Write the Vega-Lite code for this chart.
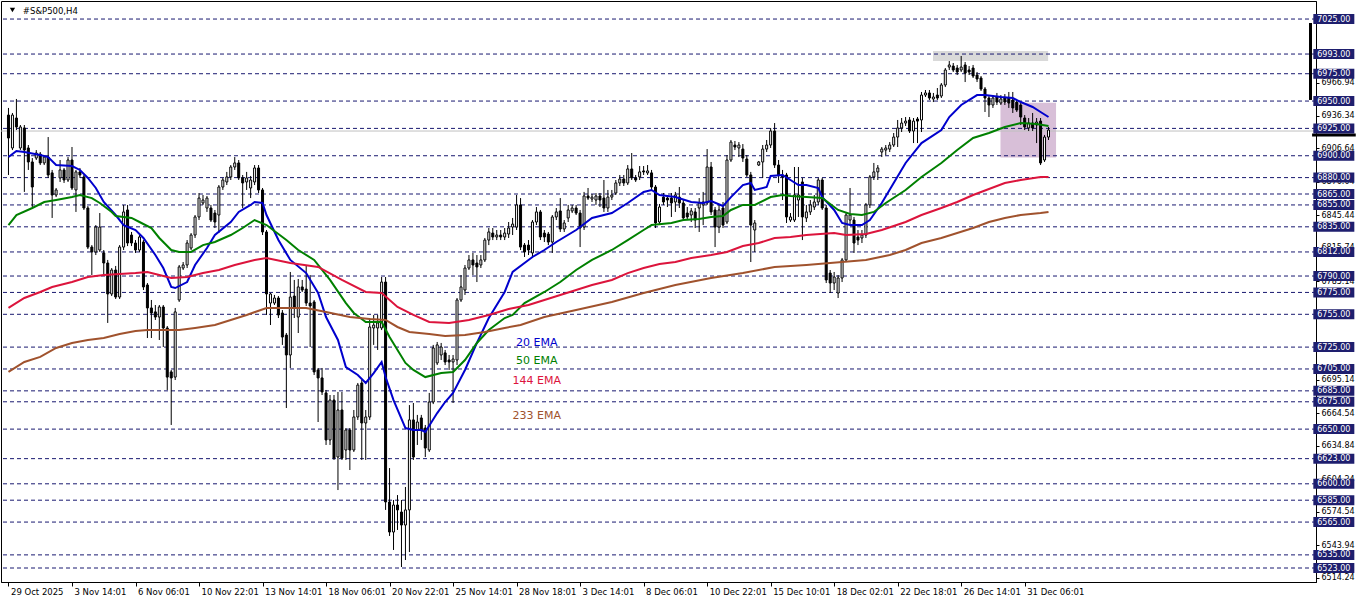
{
"$schema":"https://vega.github.io/schema/vega-lite/v6.json",
"width":1315,"height":581,"autosize":"none",
"padding":{"left":1,"top":1,"right":46,"bottom":21},
"background":"#ffffff",
"config":{"view":{"stroke":"#000000","strokeWidth":1},"font":"DejaVu Sans","axis":{"grid":false,"title":null}},
"datasets":{
"candles":[
{"i":0,"o":6937.2,"h":6943.7,"l":6882.4,"c":6916.2},
{"i":1,"o":6907.1,"h":6939.1,"l":6905.2,"c":6937.2},
{"i":2,"o":6934.5,"h":6951.9,"l":6923.5,"c":6926.3},
{"i":3,"o":6907.1,"h":6928.1,"l":6905.2,"c":6926.3},
{"i":4,"o":6925.4,"h":6928.1,"l":6866.9,"c":6905.2},
{"i":5,"o":6907.1,"h":6909.8,"l":6887.0,"c":6894.3},
{"i":6,"o":6894.3,"h":6897.9,"l":6853.1,"c":6871.4},
{"i":7,"o":6897.9,"h":6905.2,"l":6896.1,"c":6902.5},
{"i":8,"o":6901.5,"h":6903.4,"l":6891.5,"c":6893.4},
{"i":9,"o":6893.4,"h":6900.6,"l":6891.5,"c":6898.8},
{"i":10,"o":6898.8,"h":6917.1,"l":6879.7,"c":6882.4},
{"i":11,"o":6884.3,"h":6887.0,"l":6843.1,"c":6864.1},
{"i":12,"o":6864.1,"h":6870.5,"l":6862.2,"c":6868.7},
{"i":13,"o":6879.7,"h":6896.1,"l":6876.0,"c":6887.0},
{"i":14,"o":6887.0,"h":6888.8,"l":6875.1,"c":6877.8},
{"i":15,"o":6877.8,"h":6898.8,"l":6876.0,"c":6896.1},
{"i":16,"o":6896.1,"h":6908.0,"l":6868.7,"c":6870.5},
{"i":17,"o":6868.7,"h":6887.0,"l":6848.6,"c":6885.2},
{"i":18,"o":6885.2,"h":6888.8,"l":6879.7,"c":6882.4},
{"i":19,"o":6880.6,"h":6882.4,"l":6850.4,"c":6852.2},
{"i":20,"o":6852.2,"h":6854.0,"l":6814.7,"c":6816.5},
{"i":21,"o":6816.5,"h":6818.3,"l":6790.9,"c":6812.0},
{"i":22,"o":6812.0,"h":6836.6,"l":6809.2,"c":6834.8},
{"i":23,"o":6813.8,"h":6847.6,"l":6812.0,"c":6834.8},
{"i":24,"o":6811.1,"h":6813.8,"l":6790.9,"c":6801.9},
{"i":25,"o":6801.9,"h":6804.7,"l":6747.1,"c":6773.6},
{"i":26,"o":6773.6,"h":6797.3,"l":6771.7,"c":6795.5},
{"i":27,"o":6795.5,"h":6799.2,"l":6769.0,"c":6770.8},
{"i":28,"o":6770.8,"h":6818.3,"l":6769.0,"c":6816.5},
{"i":29,"o":6816.5,"h":6855.0,"l":6813.8,"c":6848.6},
{"i":30,"o":6850.4,"h":6855.0,"l":6817.4,"c":6820.2},
{"i":31,"o":6827.5,"h":6830.3,"l":6817.4,"c":6820.2},
{"i":32,"o":6820.2,"h":6822.9,"l":6811.1,"c":6813.8},
{"i":33,"o":6813.8,"h":6827.5,"l":6812.0,"c":6825.7},
{"i":34,"o":6821.1,"h":6822.9,"l":6777.2,"c":6780.0},
{"i":35,"o":6781.8,"h":6783.6,"l":6733.3,"c":6760.8},
{"i":36,"o":6760.8,"h":6768.1,"l":6733.3,"c":6756.2},
{"i":37,"o":6757.2,"h":6763.5,"l":6749.8,"c":6752.5},
{"i":38,"o":6752.5,"h":6763.5,"l":6731.5,"c":6761.7},
{"i":39,"o":6761.7,"h":6763.5,"l":6725.1,"c":6742.5},
{"i":40,"o":6742.5,"h":6744.3,"l":6685.8,"c":6697.6},
{"i":41,"o":6702.3,"h":6704.1,"l":6653.8,"c":6696.8},
{"i":42,"o":6697.6,"h":6760.8,"l":6694.9,"c":6757.2},
{"i":43,"o":6768.1,"h":6800.1,"l":6766.3,"c":6798.3},
{"i":44,"o":6797.3,"h":6802.8,"l":6795.5,"c":6800.1},
{"i":45,"o":6800.1,"h":6822.9,"l":6797.3,"c":6820.2},
{"i":46,"o":6815.6,"h":6829.3,"l":6813.8,"c":6827.5},
{"i":47,"o":6827.5,"h":6845.8,"l":6824.8,"c":6844.0},
{"i":48,"o":6844.0,"h":6865.9,"l":6841.2,"c":6861.3},
{"i":49,"o":6856.8,"h":6864.1,"l":6855.0,"c":6859.5},
{"i":50,"o":6852.2,"h":6863.2,"l":6848.6,"c":6861.3},
{"i":51,"o":6852.2,"h":6855.0,"l":6839.4,"c":6841.2},
{"i":52,"o":6847.6,"h":6850.4,"l":6833.9,"c":6839.4},
{"i":53,"o":6845.8,"h":6873.2,"l":6829.3,"c":6871.4},
{"i":54,"o":6871.4,"h":6879.7,"l":6868.7,"c":6877.8},
{"i":55,"o":6876.0,"h":6885.2,"l":6873.2,"c":6880.6},
{"i":56,"o":6880.6,"h":6891.5,"l":6877.8,"c":6889.7},
{"i":57,"o":6889.7,"h":6898.8,"l":6887.0,"c":6893.4},
{"i":58,"o":6893.4,"h":6896.1,"l":6877.8,"c":6879.7},
{"i":59,"o":6879.7,"h":6882.4,"l":6852.2,"c":6875.1},
{"i":60,"o":6876.0,"h":6885.2,"l":6868.7,"c":6879.7},
{"i":61,"o":6870.5,"h":6881.5,"l":6861.3,"c":6877.8},
{"i":62,"o":6876.0,"h":6891.5,"l":6873.2,"c":6888.8},
{"i":63,"o":6888.8,"h":6891.5,"l":6865.9,"c":6868.7},
{"i":64,"o":6868.7,"h":6870.5,"l":6827.5,"c":6830.3},
{"i":65,"o":6830.3,"h":6832.1,"l":6754.4,"c":6773.6},
{"i":66,"o":6765.3,"h":6774.5,"l":6745.2,"c":6773.6},
{"i":67,"o":6765.3,"h":6772.7,"l":6763.5,"c":6769.9},
{"i":68,"o":6769.9,"h":6771.7,"l":6751.6,"c":6754.4},
{"i":69,"o":6756.2,"h":6758.9,"l":6727.0,"c":6734.2},
{"i":70,"o":6736.0,"h":6737.9,"l":6669.3,"c":6717.8},
{"i":71,"o":6717.8,"h":6793.7,"l":6705.9,"c":6770.8},
{"i":72,"o":6771.7,"h":6786.4,"l":6751.6,"c":6761.7},
{"i":73,"o":6752.5,"h":6787.3,"l":6737.9,"c":6780.0},
{"i":74,"o":6780.0,"h":6786.4,"l":6775.4,"c":6777.2},
{"i":75,"o":6778.1,"h":6800.1,"l":6762.6,"c":6765.3},
{"i":76,"o":6765.3,"h":6790.9,"l":6725.1,"c":6762.6},
{"i":77,"o":6766.3,"h":6768.1,"l":6699.5,"c":6702.3},
{"i":78,"o":6704.1,"h":6705.9,"l":6656.5,"c":6696.8},
{"i":79,"o":6696.8,"h":6705.9,"l":6681.2,"c":6684.0},
{"i":80,"o":6683.1,"h":6685.8,"l":6635.5,"c":6640.1},
{"i":81,"o":6640.1,"h":6681.2,"l":6635.5,"c":6676.6},
{"i":82,"o":6676.6,"h":6681.2,"l":6621.8,"c":6623.6},
{"i":83,"o":6624.5,"h":6684.0,"l":6594.3,"c":6667.5},
{"i":84,"o":6667.5,"h":6684.0,"l":6621.8,"c":6623.6},
{"i":85,"o":6630.9,"h":6651.0,"l":6621.8,"c":6649.2},
{"i":86,"o":6649.2,"h":6651.0,"l":6612.6,"c":6630.9},
{"i":87,"o":6630.9,"h":6667.5,"l":6629.1,"c":6661.1},
{"i":88,"o":6661.1,"h":6692.2,"l":6658.4,"c":6690.3},
{"i":89,"o":6692.2,"h":6694.9,"l":6621.8,"c":6655.6},
{"i":90,"o":6655.6,"h":6667.5,"l":6621.8,"c":6661.1},
{"i":91,"o":6661.1,"h":6751.6,"l":6658.4,"c":6743.4},
{"i":92,"o":6742.5,"h":6754.4,"l":6727.0,"c":6745.2},
{"i":93,"o":6742.5,"h":6754.4,"l":6722.4,"c":6747.1},
{"i":94,"o":6742.5,"h":6789.1,"l":6740.6,"c":6784.5},
{"i":95,"o":6784.5,"h":6789.1,"l":6576.1,"c":6583.4},
{"i":96,"o":6583.4,"h":6614.4,"l":6552.3,"c":6555.9},
{"i":97,"o":6555.9,"h":6585.2,"l":6539.5,"c":6580.6},
{"i":98,"o":6580.6,"h":6589.7,"l":6557.8,"c":6576.1},
{"i":99,"o":6574.2,"h":6585.2,"l":6523.9,"c":6562.3},
{"i":100,"o":6562.3,"h":6597.1,"l":6530.3,"c":6576.1},
{"i":101,"o":6576.1,"h":6672.0,"l":6537.6,"c":6658.4},
{"i":102,"o":6658.4,"h":6673.9,"l":6621.8,"c":6624.5},
{"i":103,"o":6649.2,"h":6663.0,"l":6635.5,"c":6656.5},
{"i":104,"o":6660.2,"h":6663.0,"l":6640.1,"c":6649.2},
{"i":105,"o":6651.0,"h":6653.8,"l":6624.5,"c":6632.7},
{"i":106,"o":6630.9,"h":6683.1,"l":6629.1,"c":6674.8},
{"i":107,"o":6674.8,"h":6727.0,"l":6672.9,"c":6724.2},
{"i":108,"o":6710.5,"h":6729.7,"l":6708.6,"c":6727.0},
{"i":109,"o":6717.8,"h":6728.8,"l":6713.2,"c":6725.1},
{"i":110,"o":6719.7,"h":6722.4,"l":6708.6,"c":6711.4},
{"i":111,"o":6713.2,"h":6717.8,"l":6704.1,"c":6711.4},
{"i":112,"o":6711.4,"h":6717.8,"l":6673.9,"c":6714.1},
{"i":113,"o":6713.2,"h":6769.9,"l":6708.6,"c":6768.1},
{"i":114,"o":6768.1,"h":6790.9,"l":6766.3,"c":6780.0},
{"i":115,"o":6777.2,"h":6800.1,"l":6772.7,"c":6797.3},
{"i":116,"o":6797.3,"h":6809.2,"l":6795.5,"c":6804.7},
{"i":117,"o":6804.7,"h":6811.1,"l":6790.9,"c":6800.1},
{"i":118,"o":6801.9,"h":6809.2,"l":6784.5,"c":6798.3},
{"i":119,"o":6800.1,"h":6809.2,"l":6797.3,"c":6804.7},
{"i":120,"o":6804.7,"h":6824.8,"l":6802.8,"c":6822.9},
{"i":121,"o":6822.9,"h":6833.9,"l":6818.3,"c":6830.3},
{"i":122,"o":6829.3,"h":6833.9,"l":6822.9,"c":6825.7},
{"i":123,"o":6825.7,"h":6832.1,"l":6822.9,"c":6827.5},
{"i":124,"o":6827.5,"h":6832.1,"l":6822.9,"c":6825.7},
{"i":125,"o":6825.7,"h":6833.9,"l":6822.9,"c":6829.3},
{"i":126,"o":6828.4,"h":6839.4,"l":6824.8,"c":6833.9},
{"i":127,"o":6834.8,"h":6843.1,"l":6827.5,"c":6837.5},
{"i":128,"o":6834.8,"h":6864.1,"l":6832.1,"c":6855.0},
{"i":129,"o":6855.0,"h":6861.3,"l":6813.8,"c":6816.5},
{"i":130,"o":6818.3,"h":6820.2,"l":6807.4,"c":6812.0},
{"i":131,"o":6818.3,"h":6822.9,"l":6809.2,"c":6813.8},
{"i":132,"o":6811.1,"h":6841.2,"l":6807.4,"c":6839.4},
{"i":133,"o":6839.4,"h":6853.1,"l":6836.6,"c":6848.6},
{"i":134,"o":6848.6,"h":6850.4,"l":6822.9,"c":6825.7},
{"i":135,"o":6829.3,"h":6832.1,"l":6821.1,"c":6825.7},
{"i":136,"o":6828.4,"h":6830.3,"l":6818.3,"c":6821.1},
{"i":137,"o":6821.1,"h":6845.8,"l":6811.1,"c":6844.0},
{"i":138,"o":6844.0,"h":6852.2,"l":6841.2,"c":6848.6},
{"i":139,"o":6849.5,"h":6861.3,"l":6830.3,"c":6833.0},
{"i":140,"o":6833.0,"h":6841.2,"l":6830.3,"c":6838.5},
{"i":141,"o":6843.1,"h":6855.0,"l":6839.4,"c":6850.4},
{"i":142,"o":6849.5,"h":6855.0,"l":6847.6,"c":6852.2},
{"i":143,"o":6852.2,"h":6855.0,"l":6845.8,"c":6847.6},
{"i":144,"o":6847.6,"h":6850.4,"l":6816.5,"c":6833.9},
{"i":145,"o":6834.8,"h":6866.9,"l":6832.1,"c":6863.2},
{"i":146,"o":6863.2,"h":6870.5,"l":6859.5,"c":6861.3},
{"i":147,"o":6860.4,"h":6865.0,"l":6857.7,"c":6862.2},
{"i":148,"o":6859.5,"h":6865.9,"l":6855.0,"c":6863.2},
{"i":149,"o":6863.2,"h":6865.9,"l":6853.1,"c":6859.5},
{"i":150,"o":6861.3,"h":6877.8,"l":6848.6,"c":6852.2},
{"i":151,"o":6852.2,"h":6868.7,"l":6848.6,"c":6862.2},
{"i":152,"o":6862.2,"h":6868.7,"l":6859.5,"c":6864.1},
{"i":153,"o":6865.9,"h":6877.8,"l":6864.1,"c":6875.1},
{"i":154,"o":6875.1,"h":6882.4,"l":6872.3,"c":6878.7},
{"i":155,"o":6878.7,"h":6882.4,"l":6872.3,"c":6875.1},
{"i":156,"o":6875.1,"h":6891.5,"l":6873.2,"c":6887.9},
{"i":157,"o":6887.9,"h":6902.5,"l":6877.8,"c":6879.7},
{"i":158,"o":6879.7,"h":6882.4,"l":6876.0,"c":6877.8},
{"i":159,"o":6880.6,"h":6890.6,"l":6877.8,"c":6885.2},
{"i":160,"o":6886.1,"h":6890.6,"l":6882.4,"c":6885.2},
{"i":161,"o":6884.3,"h":6891.5,"l":6882.4,"c":6886.1},
{"i":162,"o":6884.3,"h":6887.0,"l":6868.7,"c":6871.4},
{"i":163,"o":6871.4,"h":6873.2,"l":6833.9,"c":6838.5},
{"i":164,"o":6839.4,"h":6855.9,"l":6837.5,"c":6853.1},
{"i":165,"o":6862.2,"h":6865.9,"l":6855.0,"c":6857.7},
{"i":166,"o":6861.3,"h":6864.1,"l":6853.1,"c":6859.5},
{"i":167,"o":6861.3,"h":6865.9,"l":6844.0,"c":6856.8},
{"i":168,"o":6857.7,"h":6866.9,"l":6848.6,"c":6864.1},
{"i":169,"o":6862.2,"h":6871.4,"l":6852.2,"c":6856.8},
{"i":170,"o":6856.8,"h":6859.5,"l":6841.2,"c":6843.1},
{"i":171,"o":6847.6,"h":6853.1,"l":6841.2,"c":6844.0},
{"i":172,"o":6845.8,"h":6852.2,"l":6839.4,"c":6849.5},
{"i":173,"o":6848.6,"h":6852.2,"l":6833.9,"c":6841.2},
{"i":174,"o":6852.2,"h":6861.3,"l":6830.3,"c":6856.8},
{"i":175,"o":6855.0,"h":6866.9,"l":6836.6,"c":6857.7},
{"i":176,"o":6856.8,"h":6906.1,"l":6855.0,"c":6889.7},
{"i":177,"o":6889.7,"h":6894.3,"l":6845.8,"c":6848.6},
{"i":178,"o":6850.4,"h":6853.1,"l":6816.5,"c":6834.8},
{"i":179,"o":6834.8,"h":6855.0,"l":6829.3,"c":6850.4},
{"i":180,"o":6852.2,"h":6857.7,"l":6833.9,"c":6836.6},
{"i":181,"o":6839.4,"h":6900.6,"l":6837.5,"c":6896.1},
{"i":182,"o":6896.1,"h":6914.4,"l":6894.3,"c":6912.5},
{"i":183,"o":6909.8,"h":6913.5,"l":6905.2,"c":6908.0},
{"i":184,"o":6907.1,"h":6912.5,"l":6898.8,"c":6909.8},
{"i":185,"o":6906.1,"h":6910.7,"l":6894.3,"c":6897.9},
{"i":186,"o":6897.0,"h":6900.6,"l":6880.6,"c":6882.4},
{"i":187,"o":6882.4,"h":6885.2,"l":6802.8,"c":6836.6},
{"i":188,"o":6832.1,"h":6841.2,"l":6812.0,"c":6838.5},
{"i":189,"o":6891.5,"h":6895.2,"l":6890.6,"c":6894.3},
{"i":190,"o":6894.3,"h":6909.8,"l":6879.7,"c":6906.1},
{"i":191,"o":6906.1,"h":6914.4,"l":6903.4,"c":6909.8},
{"i":192,"o":6909.8,"h":6925.4,"l":6907.1,"c":6922.6},
{"i":193,"o":6922.6,"h":6929.9,"l":6888.8,"c":6891.5},
{"i":194,"o":6891.5,"h":6896.1,"l":6875.1,"c":6882.4},
{"i":195,"o":6882.4,"h":6887.0,"l":6859.5,"c":6880.6},
{"i":196,"o":6882.4,"h":6884.3,"l":6838.5,"c":6844.0},
{"i":197,"o":6841.2,"h":6847.6,"l":6839.4,"c":6844.0},
{"i":198,"o":6841.2,"h":6889.7,"l":6839.4,"c":6864.1},
{"i":199,"o":6859.5,"h":6889.7,"l":6844.0,"c":6864.1},
{"i":200,"o":6876.0,"h":6879.7,"l":6822.9,"c":6844.0},
{"i":201,"o":6843.1,"h":6855.0,"l":6839.4,"c":6848.6},
{"i":202,"o":6848.6,"h":6859.5,"l":6845.8,"c":6855.0},
{"i":203,"o":6853.1,"h":6864.1,"l":6850.4,"c":6857.7},
{"i":204,"o":6857.7,"h":6879.7,"l":6855.0,"c":6877.8},
{"i":205,"o":6877.8,"h":6879.7,"l":6850.4,"c":6852.2},
{"i":206,"o":6852.2,"h":6855.0,"l":6783.6,"c":6786.4},
{"i":207,"o":6792.7,"h":6795.5,"l":6774.5,"c":6783.6},
{"i":208,"o":6783.6,"h":6793.7,"l":6777.2,"c":6789.1},
{"i":209,"o":6774.5,"h":6790.9,"l":6769.9,"c":6788.2},
{"i":210,"o":6788.2,"h":6806.5,"l":6784.5,"c":6804.7},
{"i":211,"o":6804.7,"h":6847.6,"l":6802.8,"c":6845.8},
{"i":212,"o":6841.2,"h":6870.5,"l":6836.6,"c":6845.8},
{"i":213,"o":6841.2,"h":6844.0,"l":6811.1,"c":6820.2},
{"i":214,"o":6825.7,"h":6832.1,"l":6818.3,"c":6822.9},
{"i":215,"o":6824.8,"h":6832.1,"l":6820.2,"c":6827.5},
{"i":216,"o":6827.5,"h":6856.8,"l":6824.8,"c":6855.0},
{"i":217,"o":6855.0,"h":6882.4,"l":6852.2,"c":6880.6},
{"i":218,"o":6880.6,"h":6893.4,"l":6877.8,"c":6885.2},
{"i":219,"o":6885.2,"h":6891.5,"l":6877.8,"c":6888.8},
{"i":220,"o":6903.4,"h":6908.0,"l":6898.8,"c":6906.1},
{"i":221,"o":6905.2,"h":6909.8,"l":6900.6,"c":6907.1},
{"i":222,"o":6906.1,"h":6912.5,"l":6903.4,"c":6909.8},
{"i":223,"o":6909.8,"h":6920.8,"l":6908.0,"c":6917.1},
{"i":224,"o":6917.1,"h":6932.7,"l":6908.0,"c":6925.4},
{"i":225,"o":6925.4,"h":6934.5,"l":6921.7,"c":6929.9},
{"i":226,"o":6929.9,"h":6935.4,"l":6927.2,"c":6931.7},
{"i":227,"o":6932.7,"h":6935.4,"l":6920.8,"c":6922.6},
{"i":228,"o":6922.6,"h":6934.5,"l":6911.6,"c":6931.7},
{"i":229,"o":6933.6,"h":6935.4,"l":6911.6,"c":6931.7},
{"i":230,"o":6932.7,"h":6958.3,"l":6921.7,"c":6955.5},
{"i":231,"o":6955.5,"h":6960.1,"l":6953.7,"c":6957.4},
{"i":232,"o":6957.4,"h":6960.1,"l":6951.0,"c":6952.8},
{"i":233,"o":6951.9,"h":6957.4,"l":6949.1,"c":6953.7},
{"i":234,"o":6955.5,"h":6961.9,"l":6951.0,"c":6952.8},
{"i":235,"o":6954.6,"h":6966.5,"l":6952.8,"c":6964.7},
{"i":236,"o":6964.7,"h":6980.2,"l":6962.8,"c":6978.4},
{"i":237,"o":6981.1,"h":6986.6,"l":6978.4,"c":6983.0},
{"i":238,"o":6982.0,"h":6984.8,"l":6976.6,"c":6978.4},
{"i":239,"o":6980.2,"h":6983.0,"l":6973.8,"c":6976.6},
{"i":240,"o":6978.4,"h":6991.2,"l":6976.6,"c":6981.1},
{"i":241,"o":6983.0,"h":6985.7,"l":6967.4,"c":6975.6},
{"i":242,"o":6978.4,"h":6982.0,"l":6973.8,"c":6976.6},
{"i":243,"o":6980.2,"h":6983.0,"l":6971.1,"c":6972.9},
{"i":244,"o":6973.8,"h":6976.6,"l":6967.4,"c":6970.2},
{"i":245,"o":6971.1,"h":6972.9,"l":6959.2,"c":6961.0},
{"i":246,"o":6961.0,"h":6962.8,"l":6940.0,"c":6952.8},
{"i":247,"o":6952.8,"h":6954.6,"l":6935.4,"c":6946.4},
{"i":248,"o":6946.4,"h":6955.5,"l":6943.7,"c":6952.8},
{"i":249,"o":6953.7,"h":6957.4,"l":6946.4,"c":6949.1},
{"i":250,"o":6948.2,"h":6955.5,"l":6946.4,"c":6951.9},
{"i":251,"o":6952.8,"h":6956.4,"l":6946.4,"c":6949.1},
{"i":252,"o":6952.8,"h":6958.3,"l":6943.7,"c":6948.2},
{"i":253,"o":6951.0,"h":6958.3,"l":6939.1,"c":6943.7},
{"i":254,"o":6949.1,"h":6951.0,"l":6940.0,"c":6941.8},
{"i":255,"o":6946.4,"h":6948.2,"l":6928.1,"c":6935.4},
{"i":256,"o":6934.5,"h":6937.2,"l":6923.5,"c":6926.3},
{"i":257,"o":6925.4,"h":6934.5,"l":6922.6,"c":6929.9},
{"i":258,"o":6929.9,"h":6939.1,"l":6922.6,"c":6925.4},
{"i":259,"o":6928.1,"h":6934.5,"l":6911.6,"c":6930.8},
{"i":260,"o":6931.7,"h":6934.5,"l":6891.5,"c":6893.4},
{"i":261,"o":6896.1,"h":6919.0,"l":6894.3,"c":6917.1},
{"i":262,"o":6917.1,"h":6926.3,"l":6914.4,"c":6923.5}
],
"ema":[
{"s":"20","i":0,"v":6898.8},{"s":"20","i":2,"v":6904.3},{"s":"20","i":4,"v":6903.4},{"s":"20","i":8,"v":6900.6},{"s":"20","i":10,"v":6898.8},{"s":"20","i":12,"v":6891.5},{"s":"20","i":16,"v":6890.6},{"s":"20","i":18,"v":6887.0},{"s":"20","i":20,"v":6879.7},{"s":"20","i":22,"v":6870.5},{"s":"20","i":24,"v":6857.7},{"s":"20","i":27,"v":6845.8},{"s":"20","i":29,"v":6836.6},{"s":"20","i":32,"v":6832.1},{"s":"20","i":34,"v":6824.8},{"s":"20","i":37,"v":6809.2},{"s":"20","i":39,"v":6797.3},{"s":"20","i":41,"v":6780.0},{"s":"20","i":42,"v":6779.0},{"s":"20","i":45,"v":6784.5},{"s":"20","i":47,"v":6800.1},{"s":"20","i":50,"v":6815.6},{"s":"20","i":52,"v":6827.5},{"s":"20","i":56,"v":6839.4},{"s":"20","i":58,"v":6848.6},{"s":"20","i":61,"v":6855.0},{"s":"20","i":62,"v":6857.7},{"s":"20","i":64,"v":6856.8},{"s":"20","i":65,"v":6845.8},{"s":"20","i":68,"v":6822.9},{"s":"20","i":71,"v":6804.7},{"s":"20","i":75,"v":6792.7},{"s":"20","i":78,"v":6774.5},{"s":"20","i":80,"v":6752.5},{"s":"20","i":83,"v":6731.5},{"s":"20","i":85,"v":6706.8},{"s":"20","i":88,"v":6699.5},{"s":"20","i":90,"v":6692.2},{"s":"20","i":92,"v":6701.3},{"s":"20","i":94,"v":6711.4},{"s":"20","i":95,"v":6697.6},{"s":"20","i":97,"v":6676.6},{"s":"20","i":100,"v":6651.0},{"s":"20","i":102,"v":6649.2},{"s":"20","i":104,"v":6649.2},{"s":"20","i":105,"v":6647.4},{"s":"20","i":108,"v":6664.7},{"s":"20","i":110,"v":6674.8},{"s":"20","i":112,"v":6683.1},{"s":"20","i":115,"v":6704.1},{"s":"20","i":118,"v":6728.8},{"s":"20","i":121,"v":6751.6},{"s":"20","i":125,"v":6775.4},{"s":"20","i":127,"v":6793.7},{"s":"20","i":132,"v":6807.4},{"s":"20","i":135,"v":6813.8},{"s":"20","i":138,"v":6821.1},{"s":"20","i":143,"v":6832.1},{"s":"20","i":147,"v":6843.1},{"s":"20","i":152,"v":6847.6},{"s":"20","i":156,"v":6856.8},{"s":"20","i":160,"v":6866.9},{"s":"20","i":162,"v":6868.7},{"s":"20","i":164,"v":6864.1},{"s":"20","i":168,"v":6862.2},{"s":"20","i":172,"v":6857.7},{"s":"20","i":175,"v":6856.8},{"s":"20","i":177,"v":6858.6},{"s":"20","i":180,"v":6854.0},{"s":"20","i":182,"v":6862.2},{"s":"20","i":185,"v":6873.2},{"s":"20","i":187,"v":6875.1},{"s":"20","i":188,"v":6868.7},{"s":"20","i":191,"v":6871.4},{"s":"20","i":192,"v":6881.5},{"s":"20","i":195,"v":6882.4},{"s":"20","i":197,"v":6877.8},{"s":"20","i":199,"v":6873.2},{"s":"20","i":201,"v":6873.2},{"s":"20","i":204,"v":6870.5},{"s":"20","i":205,"v":6862.2},{"s":"20","i":208,"v":6850.4},{"s":"20","i":210,"v":6838.5},{"s":"20","i":212,"v":6836.6},{"s":"20","i":215,"v":6836.6},{"s":"20","i":217,"v":6841.2},{"s":"20","i":220,"v":6856.8},{"s":"20","i":223,"v":6875.1},{"s":"20","i":226,"v":6893.4},{"s":"20","i":230,"v":6911.6},{"s":"20","i":235,"v":6923.5},{"s":"20","i":237,"v":6935.4},{"s":"20","i":240,"v":6946.4},{"s":"20","i":244,"v":6955.5},{"s":"20","i":246,"v":6955.5},{"s":"20","i":250,"v":6953.7},{"s":"20","i":253,"v":6952.8},{"s":"20","i":255,"v":6949.1},{"s":"20","i":258,"v":6944.6},{"s":"20","i":260,"v":6940.0},{"s":"20","i":262,"v":6935.4},
{"s":"50","i":0,"v":6836.6},{"s":"50","i":2,"v":6845.8},{"s":"50","i":6,"v":6852.2},{"s":"50","i":9,"v":6857.7},{"s":"50","i":12,"v":6859.5},{"s":"50","i":16,"v":6862.2},{"s":"50","i":18,"v":6864.1},{"s":"50","i":21,"v":6861.3},{"s":"50","i":23,"v":6856.8},{"s":"50","i":26,"v":6848.6},{"s":"50","i":27,"v":6844.9},{"s":"50","i":31,"v":6843.1},{"s":"50","i":33,"v":6839.4},{"s":"50","i":36,"v":6833.9},{"s":"50","i":38,"v":6824.8},{"s":"50","i":41,"v":6813.8},{"s":"50","i":43,"v":6812.0},{"s":"50","i":46,"v":6812.0},{"s":"50","i":49,"v":6818.3},{"s":"50","i":52,"v":6821.1},{"s":"50","i":56,"v":6827.5},{"s":"50","i":59,"v":6833.9},{"s":"50","i":62,"v":6841.2},{"s":"50","i":65,"v":6836.6},{"s":"50","i":70,"v":6822.9},{"s":"50","i":73,"v":6813.8},{"s":"50","i":77,"v":6804.7},{"s":"50","i":81,"v":6786.4},{"s":"50","i":85,"v":6765.3},{"s":"50","i":87,"v":6756.2},{"s":"50","i":90,"v":6748.0},{"s":"50","i":94,"v":6748.0},{"s":"50","i":96,"v":6734.2},{"s":"50","i":100,"v":6710.5},{"s":"50","i":102,"v":6704.1},{"s":"50","i":105,"v":6697.6},{"s":"50","i":109,"v":6701.3},{"s":"50","i":112,"v":6702.3},{"s":"50","i":115,"v":6713.2},{"s":"50","i":118,"v":6728.8},{"s":"50","i":121,"v":6740.6},{"s":"50","i":125,"v":6751.6},{"s":"50","i":127,"v":6754.4},{"s":"50","i":130,"v":6765.3},{"s":"50","i":135,"v":6775.4},{"s":"50","i":139,"v":6784.5},{"s":"50","i":143,"v":6795.5},{"s":"50","i":147,"v":6804.7},{"s":"50","i":152,"v":6813.8},{"s":"50","i":156,"v":6822.9},{"s":"50","i":160,"v":6832.1},{"s":"50","i":162,"v":6836.6},{"s":"50","i":167,"v":6838.5},{"s":"50","i":170,"v":6841.2},{"s":"50","i":174,"v":6842.1},{"s":"50","i":177,"v":6844.0},{"s":"50","i":180,"v":6844.9},{"s":"50","i":182,"v":6850.4},{"s":"50","i":185,"v":6855.0},{"s":"50","i":188,"v":6855.0},{"s":"50","i":192,"v":6862.2},{"s":"50","i":195,"v":6864.1},{"s":"50","i":197,"v":6863.2},{"s":"50","i":201,"v":6862.2},{"s":"50","i":205,"v":6861.3},{"s":"50","i":209,"v":6850.4},{"s":"50","i":212,"v":6846.7},{"s":"50","i":215,"v":6845.8},{"s":"50","i":218,"v":6848.6},{"s":"50","i":221,"v":6856.8},{"s":"50","i":226,"v":6868.7},{"s":"50","i":230,"v":6880.6},{"s":"50","i":235,"v":6893.4},{"s":"50","i":239,"v":6905.2},{"s":"50","i":243,"v":6916.2},{"s":"50","i":247,"v":6920.8},{"s":"50","i":251,"v":6926.3},{"s":"50","i":255,"v":6929.9},{"s":"50","i":259,"v":6929.0},{"s":"50","i":262,"v":6927.2},
{"s":"144","i":0,"v":6760.8},{"s":"144","i":4,"v":6769.9},{"s":"144","i":8,"v":6775.4},{"s":"144","i":11,"v":6780.0},{"s":"144","i":16,"v":6784.5},{"s":"144","i":20,"v":6789.1},{"s":"144","i":24,"v":6790.9},{"s":"144","i":28,"v":6791.8},{"s":"144","i":32,"v":6792.7},{"s":"144","i":35,"v":6793.7},{"s":"144","i":38,"v":6790.9},{"s":"144","i":41,"v":6788.2},{"s":"144","i":45,"v":6789.1},{"s":"144","i":49,"v":6792.7},{"s":"144","i":53,"v":6795.5},{"s":"144","i":57,"v":6800.1},{"s":"144","i":62,"v":6804.7},{"s":"144","i":65,"v":6806.5},{"s":"144","i":71,"v":6801.9},{"s":"144","i":78,"v":6798.3},{"s":"144","i":84,"v":6786.4},{"s":"144","i":90,"v":6775.4},{"s":"144","i":94,"v":6774.5},{"s":"144","i":98,"v":6761.7},{"s":"144","i":102,"v":6754.4},{"s":"144","i":106,"v":6748.0},{"s":"144","i":111,"v":6747.1},{"s":"144","i":116,"v":6749.8},{"s":"144","i":121,"v":6754.4},{"s":"144","i":126,"v":6759.9},{"s":"144","i":131,"v":6763.5},{"s":"144","i":135,"v":6768.1},{"s":"144","i":139,"v":6772.7},{"s":"144","i":143,"v":6777.2},{"s":"144","i":147,"v":6781.8},{"s":"144","i":152,"v":6786.4},{"s":"144","i":156,"v":6792.7},{"s":"144","i":160,"v":6797.3},{"s":"144","i":164,"v":6801.0},{"s":"144","i":168,"v":6802.8},{"s":"144","i":172,"v":6806.5},{"s":"144","i":177,"v":6809.2},{"s":"144","i":181,"v":6812.0},{"s":"144","i":185,"v":6817.4},{"s":"144","i":189,"v":6820.2},{"s":"144","i":193,"v":6824.8},{"s":"144","i":197,"v":6825.7},{"s":"144","i":201,"v":6827.5},{"s":"144","i":208,"v":6829.3},{"s":"144","i":211,"v":6827.5},{"s":"144","i":216,"v":6828.4},{"s":"144","i":220,"v":6832.1},{"s":"144","i":226,"v":6839.4},{"s":"144","i":230,"v":6845.8},{"s":"144","i":235,"v":6852.2},{"s":"144","i":239,"v":6857.7},{"s":"144","i":243,"v":6864.1},{"s":"144","i":247,"v":6869.6},{"s":"144","i":251,"v":6875.1},{"s":"144","i":255,"v":6877.8},{"s":"144","i":260,"v":6880.6},{"s":"144","i":262,"v":6880.6},
{"s":"233","i":0,"v":6702.3},{"s":"233","i":4,"v":6711.4},{"s":"233","i":8,"v":6716.0},{"s":"233","i":12,"v":6724.2},{"s":"233","i":16,"v":6728.8},{"s":"233","i":20,"v":6731.5},{"s":"233","i":24,"v":6733.3},{"s":"233","i":28,"v":6737.0},{"s":"233","i":32,"v":6739.7},{"s":"233","i":35,"v":6740.6},{"s":"233","i":39,"v":6740.6},{"s":"233","i":43,"v":6740.6},{"s":"233","i":47,"v":6742.5},{"s":"233","i":52,"v":6745.2},{"s":"233","i":56,"v":6749.8},{"s":"233","i":60,"v":6754.4},{"s":"233","i":65,"v":6760.8},{"s":"233","i":71,"v":6760.8},{"s":"233","i":75,"v":6760.8},{"s":"233","i":80,"v":6757.1},{"s":"233","i":86,"v":6752.5},{"s":"233","i":91,"v":6750.7},{"s":"233","i":95,"v":6749.8},{"s":"233","i":98,"v":6743.4},{"s":"233","i":101,"v":6738.8},{"s":"233","i":106,"v":6737.0},{"s":"233","i":110,"v":6735.1},{"s":"233","i":115,"v":6736.0},{"s":"233","i":120,"v":6738.8},{"s":"233","i":125,"v":6742.5},{"s":"233","i":129,"v":6745.2},{"s":"233","i":135,"v":6752.5},{"s":"233","i":143,"v":6758.9},{"s":"233","i":152,"v":6766.3},{"s":"233","i":160,"v":6774.5},{"s":"233","i":168,"v":6781.8},{"s":"233","i":177,"v":6788.2},{"s":"233","i":185,"v":6792.7},{"s":"233","i":193,"v":6798.3},{"s":"233","i":197,"v":6799.2},{"s":"233","i":201,"v":6800.1},{"s":"233","i":210,"v":6802.8},{"s":"233","i":216,"v":6804.7},{"s":"233","i":222,"v":6809.2},{"s":"233","i":226,"v":6813.8},{"s":"233","i":230,"v":6820.2},{"s":"233","i":235,"v":6824.8},{"s":"233","i":239,"v":6829.3},{"s":"233","i":243,"v":6833.9},{"s":"233","i":247,"v":6839.4},{"s":"233","i":251,"v":6843.1},{"s":"233","i":255,"v":6845.8},{"s":"233","i":260,"v":6847.6},{"s":"233","i":262,"v":6848.6}
],
"levels":[{"p":7025},{"p":6993},{"p":6975},{"p":6950},{"p":6925},{"p":6900},{"p":6880},{"p":6865},{"p":6855},{"p":6835},{"p":6812},{"p":6790},{"p":6775},{"p":6755},{"p":6725},{"p":6705},{"p":6685},{"p":6675},{"p":6650},{"p":6623},{"p":6600},{"p":6585},{"p":6565},{"p":6535},{"p":6523}],
"zones":[{"from":232.9,"to":261.9,"hi":6995.8,"lo":6986.6,"zone":"top"},{"from":249.9,"to":263.9,"hi":6948.5,"lo":6898.5,"zone":"range"}],
"labels":[{"t":"20 EMA","s":"20","bar":133.1,"price":6728.8},{"t":"50 EMA","s":"50","bar":133.1,"price":6712.3},{"t":"144 EMA","s":"144","bar":133.1,"price":6694.0},{"t":"233 EMA","s":"233","bar":133.1,"price":6662.0}]
},
"layer":[
{"data":{"name":"zones"},"mark":{"type":"rect"},"encoding":{
 "x":{"field":"from","type":"quantitative","scale":{"domain":[-0.625,328.125],"nice":false,"zero":false},
  "axis":{"orient":"bottom","values":[0,16,32,48,64,80,96,112,128,144,160,176,192,208,224,240,256],"labelExpr":"['29 Oct 2025','3 Nov 14:01','6 Nov 06:01','10 Nov 22:01','13 Nov 14:01','18 Nov 06:01','20 Nov 22:01','25 Nov 14:01','28 Nov 18:01','3 Dec 14:01','8 Dec 06:01','10 Dec 22:01','15 Dec 10:01','18 Dec 02:01','22 Dec 18:01','26 Dec 14:01','31 Dec 06:01'][round(datum.value/16)]","title":null,"grid":false,"domainColor":"#000000","tickColor":"#000000","tickSize":4,"labelPadding":1,"labelFont":"DejaVu Sans","labelFontSize":8.5,"labelColor":"#000000","labelAlign":"left","labelBaseline":"top","labelOffset":2,"labelFlush":false,"labelOverlap":false,"labelBound":false}},
 "x2":{"field":"to"},
 "y":{"field":"hi","type":"quantitative","scale":{"domain":[6510.2,7041.5],"nice":false,"zero":false},
  "axis":{"orient":"right","values":[6966.94,6936.34,6906.64,6876.04,6845.44,6815.74,6785.14,6695.14,6664.54,6634.84,6604.24,6574.54,6543.94,6514.24],"format":".2f","title":null,"grid":false,"domainColor":"#000000","tickColor":"#000000","tickSize":3,"labelPadding":2,"labelFont":"DejaVu Sans","labelFontSize":8,"labelColor":"#000000","labelAlign":"left","labelBaseline":"middle","labelFlush":false,"labelOverlap":false,"labelBound":false}},
 "y2":{"field":"lo"},
 "fill":{"field":"zone","type":"nominal","scale":{"domain":["top","range"],"range":["#d9d9d9","#d8bfd8"]},"legend":null}}},
{"data":{"name":"levels"},"mark":{"type":"rule","stroke":"#191970","strokeWidth":1,"strokeDash":[4,3]},"encoding":{
 "y":{"field":"p","type":"quantitative","scale":{"domain":[6510.2,7041.5],"nice":false,"zero":false}}}},
{"data":{"values":[{"bid":6922.6}]},"mark":{"type":"rule","stroke":"#c0c0c0","strokeWidth":1},"encoding":{
 "y":{"field":"bid","type":"quantitative","scale":{"domain":[6510.2,7041.5],"nice":false,"zero":false}}}},
{"data":{"name":"candles"},"mark":{"type":"rule","stroke":"#000000","strokeWidth":1},"encoding":{
 "x":{"field":"i","type":"quantitative","scale":{"domain":[-0.625,328.125],"nice":false,"zero":false}},
 "y":{"field":"l","type":"quantitative","scale":{"domain":[6510.2,7041.5],"nice":false,"zero":false}},
 "y2":{"field":"h"}}},
{"data":{"name":"candles"},"mark":{"type":"bar","width":2,"stroke":"#000000","strokeWidth":1},"encoding":{
 "x":{"field":"i","type":"quantitative","scale":{"domain":[-0.625,328.125],"nice":false,"zero":false}},
 "y":{"field":"o","type":"quantitative","scale":{"domain":[6510.2,7041.5],"nice":false,"zero":false}},
 "y2":{"field":"c"},
 "fill":{"condition":{"test":"datum.c >= datum.o","value":"#ffffff"},"value":"#000000"}}},
{"data":{"name":"ema"},"mark":{"type":"line","strokeWidth":2},"encoding":{
 "x":{"field":"i","type":"quantitative","scale":{"domain":[-0.625,328.125],"nice":false,"zero":false}},
 "y":{"field":"v","type":"quantitative","scale":{"domain":[6510.2,7041.5],"nice":false,"zero":false}},
 "color":{"field":"s","type":"nominal","scale":{"domain":["20","50","144","233"],"range":["#0000cd","#008000","#dc143c","#a0522d"]},"legend":null},
 "order":{"field":"i","type":"quantitative"}}},
{"data":{"name":"labels"},"mark":{"type":"text","fontSize":11,"align":"center","baseline":"middle","font":"DejaVu Sans"},"encoding":{
 "x":{"field":"bar","type":"quantitative","scale":{"domain":[-0.625,328.125],"nice":false,"zero":false}},
 "y":{"field":"price","type":"quantitative","scale":{"domain":[6510.2,7041.5],"nice":false,"zero":false}},
 "text":{"field":"t"},
 "color":{"field":"s","type":"nominal","scale":{"domain":["20","50","144","233"],"range":["#0000cd","#008000","#dc143c","#a0522d"]},"legend":null}}},
{"data":{"values":[{"marker":"range"}]},"mark":{"type":"rule","stroke":"#000000","strokeWidth":3},"encoding":{
 "x":{"datum":328.0,"type":"quantitative","scale":{"domain":[-0.625,328.125],"nice":false,"zero":false}},
 "y":{"datum":7021.4,"type":"quantitative","scale":{"domain":[6510.2,7041.5],"nice":false,"zero":false}},
 "y2":{"datum":6951.0}}},
{"data":{"values":[{"marker":"bid"}]},"mark":{"type":"rule","stroke":"#000000","strokeWidth":3},"encoding":{
 "x":{"datum":328.4,"type":"quantitative","scale":{"domain":[-0.625,328.125],"nice":false,"zero":false}},
 "x2":{"datum":339.4},
 "y":{"datum":6918.9,"type":"quantitative","scale":{"domain":[6510.2,7041.5],"nice":false,"zero":false}}}},
{"data":{"name":"levels"},"mark":{"type":"point","shape":"M-1,-0.244H1V0.244H-1Z","size":1681,"filled":true,"fill":"#1e1e6e","opacity":1,"strokeWidth":0},"encoding":{
 "x":{"datum":333.875,"type":"quantitative","scale":{"domain":[-0.625,328.125],"nice":false,"zero":false}},
 "y":{"field":"p","type":"quantitative","scale":{"domain":[6510.2,7041.5],"nice":false,"zero":false}}}},
{"data":{"name":"levels"},"mark":{"type":"text","fontSize":8,"align":"center","baseline":"middle","fill":"#ffffff","font":"DejaVu Sans","dy":0.5},"encoding":{
 "x":{"datum":333.875,"type":"quantitative","scale":{"domain":[-0.625,328.125],"nice":false,"zero":false}},
 "y":{"field":"p","type":"quantitative","scale":{"domain":[6510.2,7041.5],"nice":false,"zero":false}},
 "text":{"field":"p","type":"quantitative","format":".2f"}}},
{"data":{"values":[{"symbol":"#S&P500,H4"}]},"mark":{"type":"point","shape":"triangle-down","size":28,"filled":true,"fill":"#000000","opacity":1,"strokeWidth":0},"encoding":{
 "x":{"datum":1.0,"type":"quantitative","scale":{"domain":[-0.625,328.125],"nice":false,"zero":false}},
 "y":{"datum":7033.3,"type":"quantitative","scale":{"domain":[6510.2,7041.5],"nice":false,"zero":false}}}},
{"data":{"values":[{"symbol":"#S&P500,H4"}]},"mark":{"type":"text","fontSize":8.5,"align":"left","baseline":"middle","fill":"#000000","font":"DejaVu Sans"},"encoding":{
 "x":{"datum":3.625,"type":"quantitative","scale":{"domain":[-0.625,328.125],"nice":false,"zero":false}},
 "y":{"datum":7032.8,"type":"quantitative","scale":{"domain":[6510.2,7041.5],"nice":false,"zero":false}},
 "text":{"field":"symbol"}}}
]
}
